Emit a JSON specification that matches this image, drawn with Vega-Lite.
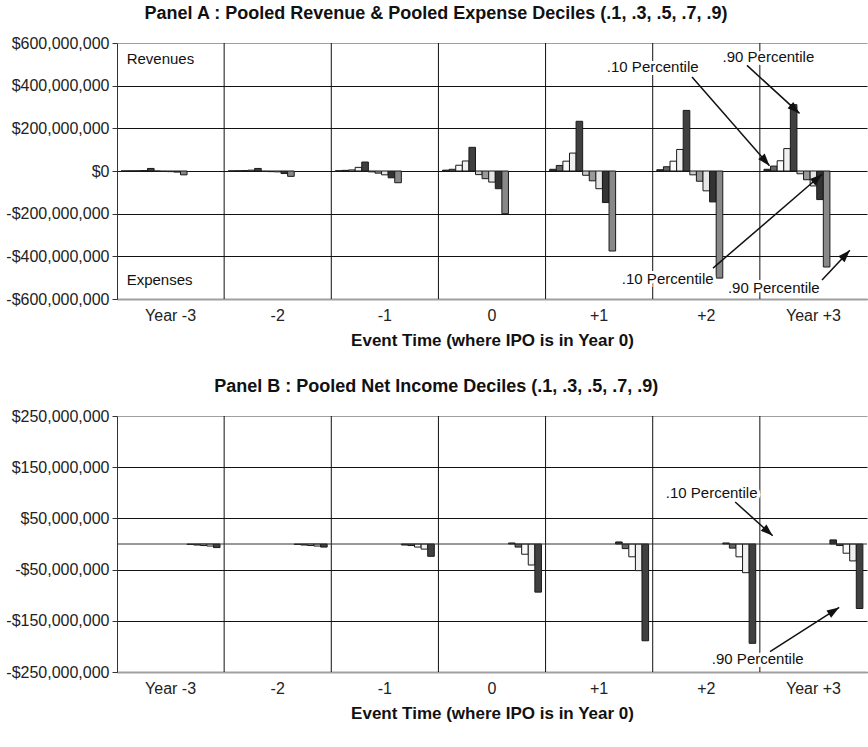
{
  "$schema": "https://vega.github.io/schema/vega-lite/v6.json",
  "padding": {"left": 5, "top": 5, "right": 0, "bottom": 2},
  "spacing": 30,
  "config": {
    "font": "Liberation Sans",
    "view": {"stroke": null},
    "axis": {"labelColor": "#222", "titleColor": "#111"},
    "title": {"fontSize": 18, "fontWeight": "bold", "color": "#111", "offset": 12, "anchor": "middle", "frame": "bounds"}
  },
  "datasets": {
    "revexp": [
      {"year": "Year -3", "series": "Revenue .1", "value": 300000},
      {"year": "Year -3", "series": "Revenue .3", "value": 600000},
      {"year": "Year -3", "series": "Revenue .5", "value": 1000000},
      {"year": "Year -3", "series": "Revenue .7", "value": 2000000},
      {"year": "Year -3", "series": "Revenue .9", "value": 12000000},
      {"year": "Year -3", "series": "Expense .1", "value": -500000},
      {"year": "Year -3", "series": "Expense .3", "value": -2000000},
      {"year": "Year -3", "series": "Expense .5", "value": -3000000},
      {"year": "Year -3", "series": "Expense .7", "value": -5000000},
      {"year": "Year -3", "series": "Expense .9", "value": -18000000},
      {"year": "-2", "series": "Revenue .1", "value": 500000},
      {"year": "-2", "series": "Revenue .3", "value": 1000000},
      {"year": "-2", "series": "Revenue .5", "value": 2000000},
      {"year": "-2", "series": "Revenue .7", "value": 4000000},
      {"year": "-2", "series": "Revenue .9", "value": 12000000},
      {"year": "-2", "series": "Expense .1", "value": -2000000},
      {"year": "-2", "series": "Expense .3", "value": -3000000},
      {"year": "-2", "series": "Expense .5", "value": -4000000},
      {"year": "-2", "series": "Expense .7", "value": -12000000},
      {"year": "-2", "series": "Expense .9", "value": -25000000},
      {"year": "-1", "series": "Revenue .1", "value": 1000000},
      {"year": "-1", "series": "Revenue .3", "value": 3000000},
      {"year": "-1", "series": "Revenue .5", "value": 5000000},
      {"year": "-1", "series": "Revenue .7", "value": 17000000},
      {"year": "-1", "series": "Revenue .9", "value": 42000000},
      {"year": "-1", "series": "Expense .1", "value": -4000000},
      {"year": "-1", "series": "Expense .3", "value": -10000000},
      {"year": "-1", "series": "Expense .5", "value": -18000000},
      {"year": "-1", "series": "Expense .7", "value": -32000000},
      {"year": "-1", "series": "Expense .9", "value": -55000000},
      {"year": "0", "series": "Revenue .1", "value": 4000000},
      {"year": "0", "series": "Revenue .3", "value": 8000000},
      {"year": "0", "series": "Revenue .5", "value": 27000000},
      {"year": "0", "series": "Revenue .7", "value": 47000000},
      {"year": "0", "series": "Revenue .9", "value": 111000000},
      {"year": "0", "series": "Expense .1", "value": -17000000},
      {"year": "0", "series": "Expense .3", "value": -36000000},
      {"year": "0", "series": "Expense .5", "value": -52000000},
      {"year": "0", "series": "Expense .7", "value": -83000000},
      {"year": "0", "series": "Expense .9", "value": -200000000},
      {"year": "+1", "series": "Revenue .1", "value": 8000000},
      {"year": "+1", "series": "Revenue .3", "value": 26000000},
      {"year": "+1", "series": "Revenue .5", "value": 46000000},
      {"year": "+1", "series": "Revenue .7", "value": 84000000},
      {"year": "+1", "series": "Revenue .9", "value": 233000000},
      {"year": "+1", "series": "Expense .1", "value": -20000000},
      {"year": "+1", "series": "Expense .3", "value": -46000000},
      {"year": "+1", "series": "Expense .5", "value": -83000000},
      {"year": "+1", "series": "Expense .7", "value": -148000000},
      {"year": "+1", "series": "Expense .9", "value": -375000000},
      {"year": "+2", "series": "Revenue .1", "value": 6000000},
      {"year": "+2", "series": "Revenue .3", "value": 20000000},
      {"year": "+2", "series": "Revenue .5", "value": 46000000},
      {"year": "+2", "series": "Revenue .7", "value": 101000000},
      {"year": "+2", "series": "Revenue .9", "value": 284000000},
      {"year": "+2", "series": "Expense .1", "value": -18000000},
      {"year": "+2", "series": "Expense .3", "value": -48000000},
      {"year": "+2", "series": "Expense .5", "value": -93000000},
      {"year": "+2", "series": "Expense .7", "value": -145000000},
      {"year": "+2", "series": "Expense .9", "value": -502000000},
      {"year": "Year +3", "series": "Revenue .1", "value": 8000000},
      {"year": "Year +3", "series": "Revenue .3", "value": 23000000},
      {"year": "Year +3", "series": "Revenue .5", "value": 48000000},
      {"year": "Year +3", "series": "Revenue .7", "value": 105000000},
      {"year": "Year +3", "series": "Revenue .9", "value": 311000000},
      {"year": "Year +3", "series": "Expense .1", "value": -13000000},
      {"year": "Year +3", "series": "Expense .3", "value": -41000000},
      {"year": "Year +3", "series": "Expense .5", "value": -70000000},
      {"year": "Year +3", "series": "Expense .7", "value": -134000000},
      {"year": "Year +3", "series": "Expense .9", "value": -450000000}
    ],
    "netincome": [
      {"year": "Year -3", "decile": ".1", "value": -1000000},
      {"year": "Year -3", "decile": ".3", "value": -2000000},
      {"year": "Year -3", "decile": ".5", "value": -3000000},
      {"year": "Year -3", "decile": ".7", "value": -4000000},
      {"year": "Year -3", "decile": ".9", "value": -7000000},
      {"year": "-2", "decile": ".1", "value": -1000000},
      {"year": "-2", "decile": ".3", "value": -2000000},
      {"year": "-2", "decile": ".5", "value": -3000000},
      {"year": "-2", "decile": ".7", "value": -4000000},
      {"year": "-2", "decile": ".9", "value": -6000000},
      {"year": "-1", "decile": ".1", "value": -2000000},
      {"year": "-1", "decile": ".3", "value": -3000000},
      {"year": "-1", "decile": ".5", "value": -6000000},
      {"year": "-1", "decile": ".7", "value": -10000000},
      {"year": "-1", "decile": ".9", "value": -24000000},
      {"year": "0", "decile": ".1", "value": 2000000},
      {"year": "0", "decile": ".3", "value": -6000000},
      {"year": "0", "decile": ".5", "value": -20000000},
      {"year": "0", "decile": ".7", "value": -41000000},
      {"year": "0", "decile": ".9", "value": -94000000},
      {"year": "+1", "decile": ".1", "value": 4000000},
      {"year": "+1", "decile": ".3", "value": -9000000},
      {"year": "+1", "decile": ".5", "value": -25000000},
      {"year": "+1", "decile": ".7", "value": -52000000},
      {"year": "+1", "decile": ".9", "value": -189000000},
      {"year": "+2", "decile": ".1", "value": 2000000},
      {"year": "+2", "decile": ".3", "value": -8000000},
      {"year": "+2", "decile": ".5", "value": -25000000},
      {"year": "+2", "decile": ".7", "value": -56000000},
      {"year": "+2", "decile": ".9", "value": -194000000},
      {"year": "Year +3", "decile": ".1", "value": 8000000},
      {"year": "Year +3", "decile": ".3", "value": -3000000},
      {"year": "Year +3", "decile": ".5", "value": -18000000},
      {"year": "Year +3", "decile": ".7", "value": -33000000},
      {"year": "Year +3", "decile": ".9", "value": -126000000}
    ],
    "yearEdges": [
      {"year": "-2"}, {"year": "-1"}, {"year": "0"}, {"year": "+1"}, {"year": "+2"}, {"year": "Year +3"}
    ],
    "notesA": [
      {"t": -3.41, "value": 525000000, "label": "Revenues"},
      {"t": -3.41, "value": -510000000, "label": "Expenses"}
    ],
    "calloutsA": [
      {"t": 1.5, "value": 488000000, "label": ".10 Percentile"},
      {"t": 2.58, "value": 535000000, "label": ".90 Percentile"},
      {"t": 1.64, "value": -507000000, "label": ".10 Percentile"},
      {"t": 2.63, "value": -549000000, "label": ".90 Percentile"}
    ],
    "arrowsA": [
      {"t": 2.59, "value": 25000000, "t0": 1.867, "value0": 441000000, "heading": 138.9},
      {"t": 2.87, "value": 270000000, "t0": 2.38, "value0": 495000000, "heading": 132.4},
      {"t": 3.08, "value": -15000000, "t0": 2.063, "value0": -455000000, "heading": 49.3},
      {"t": 3.34, "value": -372000000, "t0": 3.08, "value0": -511000000, "heading": 43.3}
    ],
    "zeroB": [
      {"t": -3.5, "t0": 3.5, "value": 0}
    ],
    "calloutsB": [
      {"t": 2.05, "value": 100000000, "label": ".10 Percentile"},
      {"t": 2.48, "value": -225000000, "label": ".90 Percentile"}
    ],
    "arrowsB": [
      {"t": 2.62, "value": 16000000, "t0": 2.27, "value0": 82000000, "heading": 132},
      {"t": 3.24, "value": -124000000, "t0": 2.595, "value0": -210000000, "heading": 57.5}
    ]
  },
  "vconcat": [
    {
      "title": {"text": "Panel A :  Pooled Revenue & Pooled Expense Deciles (.1, .3, .5, .7, .9)"},
      "width": 750,
      "height": 256,
      "resolve": {"scale": {"x": "independent"}},
      "layer": [
        {
          "data": {"name": "yearEdges"},
          "mark": {"type": "rule", "color": "#111", "strokeWidth": 1},
          "encoding": {
            "x": {"field": "year", "type": "nominal", "bandPosition": 0,
              "scale": {"type": "band", "domain": ["Year -3", "-2", "-1", "0", "+1", "+2", "Year +3"], "paddingInner": 0, "paddingOuter": 0},
              "axis": null}
          }
        },
        {
          "resolve": {"scale": {"x": "independent"}},
          "encoding": {
            "y": {
              "field": "value", "type": "quantitative",
              "scale": {"domain": [-600000000, 600000000], "nice": false, "zero": false},
              "axis": {
                "title": null,
                "values": [-600000000, -400000000, -200000000, 0, 200000000, 400000000, 600000000],
                "labelExpr": "(datum.value < 0 ? '-' : '') + '$' + format(abs(datum.value), ',')",
                "labelFontSize": 16, "labelPadding": 3,
                "grid": true,
                "gridColor": {"condition": {"test": "datum.value === 600000000", "value": "#a0a0a0"}, "value": "#111"},
                "tickSize": 5, "tickColor": "#333", "domainColor": "#333",
                "minExtent": 112, "maxExtent": 112
              }
            }
          },
          "layer": [
            {
              "data": {"name": "revexp"},
              "mark": {"type": "bar", "stroke": "#1a1a1a", "strokeWidth": 1},
              "encoding": {
                "x": {
                  "field": "year", "type": "nominal",
                  "scale": {"type": "band", "domain": ["Year -3", "-2", "-1", "0", "+1", "+2", "Year +3"], "paddingInner": 0, "paddingOuter": 0},
                  "axis": {"title": "Event Time (where IPO is in Year 0)", "titleFontWeight": "bold", "titleFontSize": 17, "titlePadding": 9, "labelFontSize": 16, "labelPadding": 8, "labelAngle": 0, "ticks": false, "grid": false, "domainColor": "#a0a0a0", "domainWidth": 2}
                },
                "xOffset": {
                  "field": "series", "type": "nominal",
                  "scale": {"domain": ["Revenue .1", "Revenue .3", "Revenue .5", "Revenue .7", "Revenue .9", "Expense .1", "Expense .3", "Expense .5", "Expense .7", "Expense .9"], "range": [0, 107.14], "paddingInner": 0, "paddingOuter": 0.625}
                },
                "color": {
                  "field": "series", "type": "nominal", "legend": null,
                  "scale": {
                    "domain": ["Revenue .1", "Revenue .3", "Revenue .5", "Revenue .7", "Revenue .9", "Expense .1", "Expense .3", "Expense .5", "Expense .7", "Expense .9"],
                    "range": ["#333333", "#666666", "#fafafa", "#f0f0f0", "#404040", "#cccccc", "#999999", "#e6e6e6", "#333333", "#888888"]
                  }
                }
              }
            },
            {
              "data": {"name": "notesA"},
              "mark": {"type": "text", "align": "left", "baseline": "middle", "fontSize": 15, "color": "#111"},
              "encoding": {
                "x": {"field": "t", "type": "quantitative", "scale": {"domain": [-3.5, 3.5], "nice": false, "zero": false}, "axis": null},
                "text": {"field": "label"}
              }
            },
            {
              "data": {"name": "calloutsA"},
              "mark": {"type": "text", "align": "center", "baseline": "middle", "fontSize": 15, "stroke": "white", "strokeWidth": 6, "fill": "white"},
              "encoding": {
                "x": {"field": "t", "type": "quantitative", "scale": {"domain": [-3.5, 3.5], "nice": false, "zero": false}, "axis": null},
                "text": {"field": "label"}
              }
            },
            {
              "data": {"name": "arrowsA"},
              "mark": {"type": "rule", "color": "#111", "strokeWidth": 1.5},
              "encoding": {
                "x": {"field": "t", "type": "quantitative", "scale": {"domain": [-3.5, 3.5], "nice": false, "zero": false}, "axis": null},
                "x2": {"field": "t0"},
                "y2": {"field": "value0"}
              }
            },
            {
              "data": {"name": "arrowsA"},
              "mark": {"type": "point", "shape": "M0,0L-0.7,2L0.7,2Z", "filled": true, "fill": "#111", "opacity": 1, "size": 150},
              "encoding": {
                "x": {"field": "t", "type": "quantitative", "scale": {"domain": [-3.5, 3.5], "nice": false, "zero": false}, "axis": null},
                "angle": {"field": "heading", "type": "quantitative", "scale": null}
              }
            },
            {
              "data": {"name": "calloutsA"},
              "mark": {"type": "text", "align": "center", "baseline": "middle", "fontSize": 15, "color": "#111"},
              "encoding": {
                "x": {"field": "t", "type": "quantitative", "scale": {"domain": [-3.5, 3.5], "nice": false, "zero": false}, "axis": null},
                "text": {"field": "label"}
              }
            }
          ]
        }
      ]
    },
    {
      "title": {"text": "Panel B :  Pooled Net Income Deciles (.1, .3, .5, .7, .9)"},
      "width": 750,
      "height": 256,
      "resolve": {"scale": {"x": "independent"}},
      "layer": [
        {
          "data": {"name": "yearEdges"},
          "mark": {"type": "rule", "color": "#111", "strokeWidth": 1},
          "encoding": {
            "x": {"field": "year", "type": "nominal", "bandPosition": 0,
              "scale": {"type": "band", "domain": ["Year -3", "-2", "-1", "0", "+1", "+2", "Year +3"], "paddingInner": 0, "paddingOuter": 0},
              "axis": null}
          }
        },
        {
          "resolve": {"scale": {"x": "independent"}},
          "encoding": {
            "y": {
              "field": "value", "type": "quantitative",
              "scale": {"domain": [-250000000, 250000000], "nice": false, "zero": false},
              "axis": {
                "title": null,
                "values": [-250000000, -150000000, -50000000, 50000000, 150000000, 250000000],
                "labelExpr": "(datum.value < 0 ? '-' : '') + '$' + format(abs(datum.value), ',')",
                "labelFontSize": 16, "labelPadding": 3,
                "grid": true,
                "gridColor": {"condition": {"test": "datum.value === 250000000", "value": "#a0a0a0"}, "value": "#111"},
                "tickSize": 5, "tickColor": "#333", "domainColor": "#333",
                "minExtent": 112, "maxExtent": 112
              }
            }
          },
          "layer": [
            {
              "data": {"name": "netincome"},
              "mark": {"type": "bar", "stroke": "#1a1a1a", "strokeWidth": 1},
              "encoding": {
                "x": {
                  "field": "year", "type": "nominal",
                  "scale": {"type": "band", "domain": ["Year -3", "-2", "-1", "0", "+1", "+2", "Year +3"], "paddingInner": 0, "paddingOuter": 0},
                  "axis": {"title": "Event Time (where IPO is in Year 0)", "titleFontWeight": "bold", "titleFontSize": 17, "titlePadding": 9, "labelFontSize": 16, "labelPadding": 8, "labelAngle": 0, "ticks": false, "grid": false, "domainColor": "#a0a0a0", "domainWidth": 2}
                },
                "xOffset": {
                  "field": "decile", "type": "nominal",
                  "scale": {"domain": [".1", ".3", ".5", ".7", ".9"], "range": [0, 107.14], "paddingInner": 0, "paddingOuter": 0.675}
                },
                "color": {
                  "field": "decile", "type": "nominal", "legend": null,
                  "scale": {"domain": [".1", ".3", ".5", ".7", ".9"], "range": ["#bdbdbd", "#8c8c8c", "#f7f7f7", "#ececec", "#404040"]}
                }
              }
            },
            {
              "data": {"name": "zeroB"},
              "mark": {"type": "rule", "color": "#333", "strokeWidth": 1},
              "encoding": {
                "x": {"field": "t", "type": "quantitative", "scale": {"domain": [-3.5, 3.5], "nice": false, "zero": false}, "axis": null},
                "x2": {"field": "t0"}
              }
            },
            {
              "data": {"name": "calloutsB"},
              "mark": {"type": "text", "align": "center", "baseline": "middle", "fontSize": 15, "stroke": "white", "strokeWidth": 6, "fill": "white"},
              "encoding": {
                "x": {"field": "t", "type": "quantitative", "scale": {"domain": [-3.5, 3.5], "nice": false, "zero": false}, "axis": null},
                "text": {"field": "label"}
              }
            },
            {
              "data": {"name": "arrowsB"},
              "mark": {"type": "rule", "color": "#111", "strokeWidth": 1.5},
              "encoding": {
                "x": {"field": "t", "type": "quantitative", "scale": {"domain": [-3.5, 3.5], "nice": false, "zero": false}, "axis": null},
                "x2": {"field": "t0"},
                "y2": {"field": "value0"}
              }
            },
            {
              "data": {"name": "arrowsB"},
              "mark": {"type": "point", "shape": "M0,0L-0.7,2L0.7,2Z", "filled": true, "fill": "#111", "opacity": 1, "size": 150},
              "encoding": {
                "x": {"field": "t", "type": "quantitative", "scale": {"domain": [-3.5, 3.5], "nice": false, "zero": false}, "axis": null},
                "angle": {"field": "heading", "type": "quantitative", "scale": null}
              }
            },
            {
              "data": {"name": "calloutsB"},
              "mark": {"type": "text", "align": "center", "baseline": "middle", "fontSize": 15, "color": "#111"},
              "encoding": {
                "x": {"field": "t", "type": "quantitative", "scale": {"domain": [-3.5, 3.5], "nice": false, "zero": false}, "axis": null},
                "text": {"field": "label"}
              }
            }
          ]
        }
      ]
    }
  ]
}
